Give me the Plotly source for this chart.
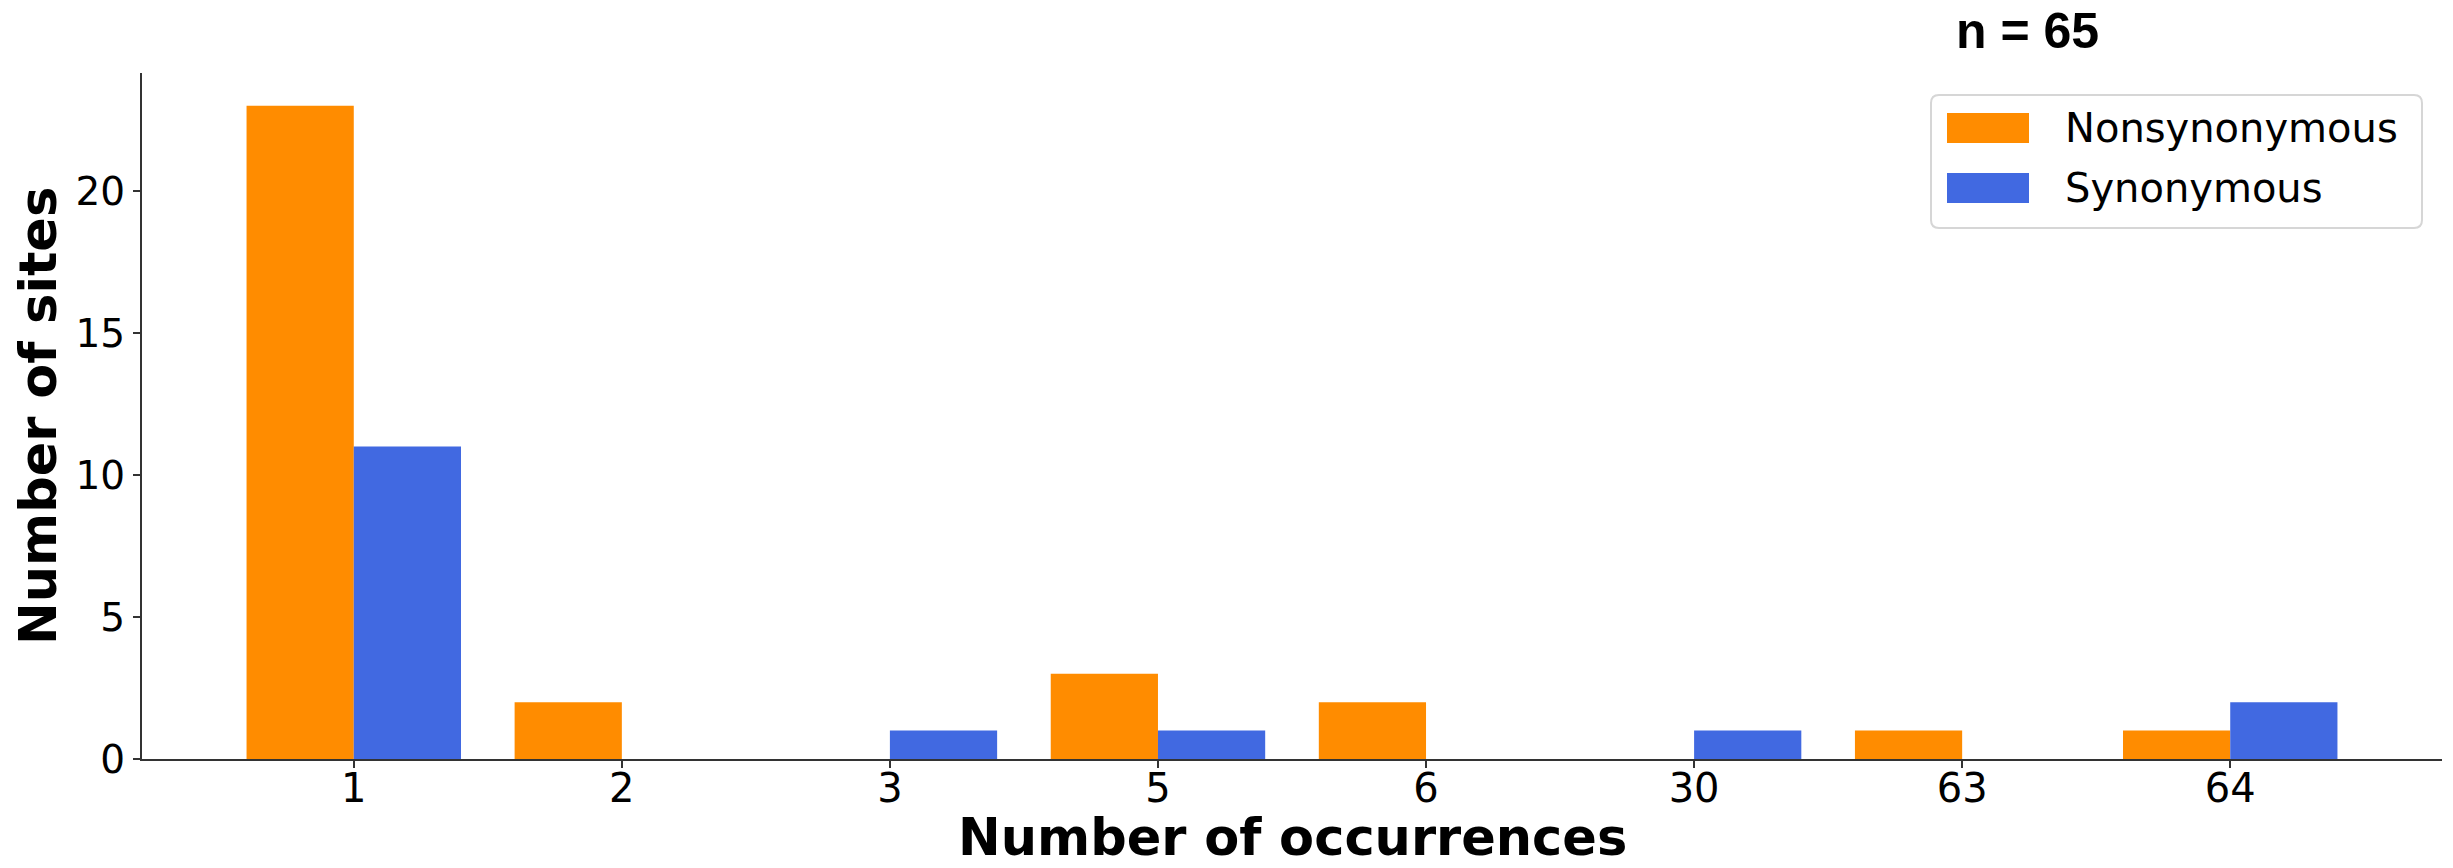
import plotly.graph_objects as go

# Occurrence categories and site counts per mutation class
occurrences = ["1", "2", "3", "5", "6", "30", "63", "64"]
nonsynonymous = [23, 2, 0, 3, 2, 0, 1, 1]
synonymous = [11, 0, 1, 1, 0, 1, 0, 2]
total_label = "n = 65"

W, H = 2453, 868
L, R, T, B = 142, 11, 73, 109
PW, PH = W - L - R, H - T - B

ORANGE = "#FF8C00"
BLUE = "#4169E1"
FONT = "DejaVu Sans"

positions = list(range(len(occurrences)))


def px_x(p):
    return (p - L) / PW


def px_y(p):
    return (H - B - p) / PH


def rounded_rect(x0, y0, x1, y1, r):
    """SVG path (paper units) for a rectangle with rounded corners, given pixels."""
    X = px_x
    Y = px_y
    return (
        f"M {X(x0 + r)},{Y(y0)} L {X(x1 - r)},{Y(y0)} "
        f"Q {X(x1)},{Y(y0)} {X(x1)},{Y(y0 + r)} "
        f"L {X(x1)},{Y(y1 - r)} Q {X(x1)},{Y(y1)} {X(x1 - r)},{Y(y1)} "
        f"L {X(x0 + r)},{Y(y1)} Q {X(x0)},{Y(y1)} {X(x0)},{Y(y1 - r)} "
        f"L {X(x0)},{Y(y0 + r)} Q {X(x0)},{Y(y0)} {X(x0 + r)},{Y(y0)} Z"
    )


fig = go.Figure()
fig.add_trace(go.Bar(x=positions, y=nonsynonymous, name="Nonsynonymous",
                     marker=dict(color=ORANGE, line=dict(width=0)),
                     showlegend=False))
fig.add_trace(go.Bar(x=positions, y=synonymous, name="Synonymous",
                     marker=dict(color=BLUE, line=dict(width=0)),
                     showlegend=False))

ymax = max(max(nonsynonymous), max(synonymous)) * 1.05
n = len(occurrences)
span = (n - 1) + 0.8

fig.update_layout(
    width=W, height=H, autosize=False,
    margin=dict(l=L, r=R, t=T, b=B, pad=0),
    paper_bgcolor="white", plot_bgcolor="white",
    barmode="group", bargap=0.2, bargroupgap=0,
    font=dict(family=FONT, color="black"),
    xaxis=dict(
        range=[-0.4 - 0.05 * span, (n - 1) + 0.4 + 0.05 * span],
        tickmode="array", tickvals=positions, ticktext=occurrences,
        showline=True, linecolor="#333333", linewidth=2,
        ticks="outside", ticklen=7, tickwidth=2, tickcolor="#333333",
        ticklabelstandoff=-14,
        showgrid=False, zeroline=False,
        tickfont=dict(family=FONT, size=40, color="black"),
    ),
    yaxis=dict(
        range=[0, ymax],
        tickmode="array", tickvals=[0, 5, 10, 15, 20],
        showline=True, linecolor="#333333", linewidth=2,
        ticks="outside", ticklen=7, tickwidth=2, tickcolor="#333333",
        showgrid=False, zeroline=False,
        tickfont=dict(family=FONT, size=39, color="black"),
    ),
)

annotations = [
    dict(text="<b>Number of occurrences</b>", xref="paper", yref="paper",
         x=0.5, y=px_y(837), xanchor="center", yanchor="middle",
         showarrow=False, font=dict(family=FONT, size=51, color="black")),
    dict(text="<b>Number of sites</b>", xref="paper", yref="paper",
         x=px_x(38), y=px_y(416), xanchor="center", yanchor="middle",
         textangle=-90, showarrow=False,
         font=dict(family=FONT, size=51, color="black")),
    dict(text="<b>" + total_label + "</b>", xref="paper", yref="paper",
         x=px_x(2027), y=px_y(31), xanchor="center", yanchor="middle",
         showarrow=False,
         font=dict(family="Liberation Sans", size=50, color="black")),
]

# Legend drawn as a framed box with colour swatches
shapes = [
    dict(type="path", xref="paper", yref="paper",
         path=rounded_rect(1931, 95, 2422, 228, 8),
         line=dict(color="#d6d6d6", width=2), fillcolor="rgba(255,255,255,0.8)",
         layer="above"),
]
legend_items = [("Nonsynonymous", ORANGE, 128), ("Synonymous", BLUE, 188)]
for label, color, yc in legend_items:
    shapes.append(dict(type="rect", xref="paper", yref="paper",
                       x0=px_x(1947), x1=px_x(2029),
                       y0=px_y(yc + 15), y1=px_y(yc - 15),
                       line=dict(width=0), fillcolor=color, layer="above"))
    annotations.append(dict(text=label, xref="paper", yref="paper",
                            x=px_x(2063), y=px_y(yc), xanchor="left",
                            yanchor="middle", showarrow=False,
                            font=dict(family=FONT, size=40, color="black")))

fig.update_layout(annotations=annotations, shapes=shapes)

fig.write_html("out.html")
